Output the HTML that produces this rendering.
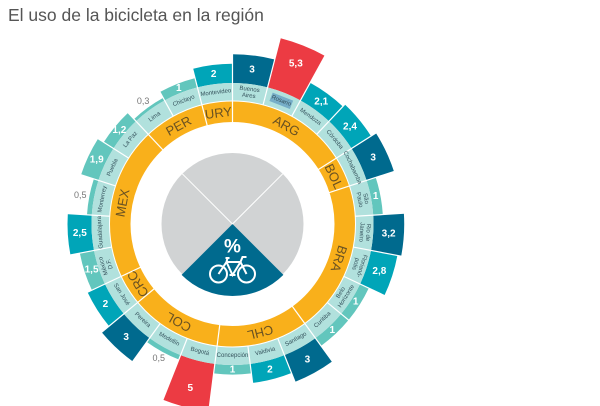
<!DOCTYPE html>
<html><head><meta charset="utf-8"><style>
html,body{margin:0;padding:0;background:#fff;width:600px;height:406px;overflow:hidden}
svg{display:block;overflow:hidden}
text{font-family:"Liberation Sans",sans-serif}
.c{font-size:6px;fill:#35525c;text-anchor:middle;dominant-baseline:central}
.v{font-size:10px;fill:#fff;font-weight:bold;text-anchor:middle;dominant-baseline:central}
.g{font-size:9px;fill:#777;text-anchor:middle;dominant-baseline:central}
.k{font-size:13px;fill:#6a5222;text-anchor:middle;dominant-baseline:central}
</style></head><body>
<svg width="600" height="406" viewBox="0 0 600 406" xmlns="http://www.w3.org/2000/svg">
<text x="8" y="21" style="font-size:17.5px;fill:#555">El uso de la bicicleta en la región</text>
<g transform="translate(232.5,224)">
<g fill="none">
<circle r="155.4" stroke="#006a8e" stroke-width="28.8" stroke-dasharray="39.06 2000" transform="rotate(-90)"/>
<circle r="166.44" stroke="#ec3b43" stroke-width="50.88" stroke-dasharray="41.83 2000" transform="rotate(-75.6)"/>
<circle r="151.08" stroke="#00a5b8" stroke-width="20.16" stroke-dasharray="37.97 2000" transform="rotate(-61.2)"/>
<circle r="152.52" stroke="#00a5b8" stroke-width="23.04" stroke-dasharray="38.33 2000" transform="rotate(-46.8)"/>
<circle r="155.4" stroke="#006a8e" stroke-width="28.8" stroke-dasharray="39.06 2000" transform="rotate(-32.4)"/>
<circle r="145.8" stroke="#62c6bd" stroke-width="9.6" stroke-dasharray="36.64 2000" transform="rotate(-18)"/>
<circle r="156.36" stroke="#006a8e" stroke-width="30.72" stroke-dasharray="39.30 2000" transform="rotate(-3.6)"/>
<circle r="154.44" stroke="#00a5b8" stroke-width="26.88" stroke-dasharray="38.81 2000" transform="rotate(10.8)"/>
<circle r="145.8" stroke="#62c6bd" stroke-width="9.6" stroke-dasharray="36.64 2000" transform="rotate(25.2)"/>
<circle r="145.8" stroke="#62c6bd" stroke-width="9.6" stroke-dasharray="36.64 2000" transform="rotate(39.6)"/>
<circle r="155.4" stroke="#006a8e" stroke-width="28.8" stroke-dasharray="39.06 2000" transform="rotate(54)"/>
<circle r="150.6" stroke="#00a5b8" stroke-width="19.2" stroke-dasharray="37.85 2000" transform="rotate(68.4)"/>
<circle r="145.8" stroke="#62c6bd" stroke-width="9.6" stroke-dasharray="36.64 2000" transform="rotate(82.8)"/>
<circle r="165" stroke="#ec3b43" stroke-width="48" stroke-dasharray="41.47 2000" transform="rotate(97.2)"/>
<circle r="143.4" stroke="#62c6bd" stroke-width="4.8" stroke-dasharray="36.04 2000" transform="rotate(111.6)"/>
<circle r="155.4" stroke="#006a8e" stroke-width="28.8" stroke-dasharray="39.06 2000" transform="rotate(126)"/>
<circle r="150.6" stroke="#00a5b8" stroke-width="19.2" stroke-dasharray="37.85 2000" transform="rotate(140.4)"/>
<circle r="148.2" stroke="#62c6bd" stroke-width="14.4" stroke-dasharray="37.25 2000" transform="rotate(154.8)"/>
<circle r="153" stroke="#00a5b8" stroke-width="24" stroke-dasharray="38.45 2000" transform="rotate(169.2)"/>
<circle r="143.4" stroke="#62c6bd" stroke-width="4.8" stroke-dasharray="36.04 2000" transform="rotate(183.6)"/>
<circle r="150.12" stroke="#62c6bd" stroke-width="18.24" stroke-dasharray="37.73 2000" transform="rotate(198)"/>
<circle r="146.76" stroke="#62c6bd" stroke-width="11.52" stroke-dasharray="36.88 2000" transform="rotate(212.4)"/>
<circle r="142.44" stroke="#62c6bd" stroke-width="2.88" stroke-dasharray="35.80 2000" transform="rotate(226.8)"/>
<circle r="145.8" stroke="#62c6bd" stroke-width="9.6" stroke-dasharray="36.64 2000" transform="rotate(241.2)"/>
<circle r="150.6" stroke="#00a5b8" stroke-width="19.2" stroke-dasharray="37.85 2000" transform="rotate(255.6)"/>
<circle r="132" stroke="#b1e1dd" stroke-width="18"/>
<circle r="112.5" stroke="#f9b01b" stroke-width="21"/>
</g>
<g stroke="#fff" stroke-width="1.2">
<line y1="-123" y2="-200"/><line y1="-123" y2="-200" transform="rotate(14.4)"/><line y1="-123" y2="-200" transform="rotate(28.8)"/><line y1="-123" y2="-200" transform="rotate(43.2)"/><line y1="-123" y2="-200" transform="rotate(57.6)"/><line y1="-123" y2="-200" transform="rotate(72)"/><line y1="-123" y2="-200" transform="rotate(86.4)"/><line y1="-123" y2="-200" transform="rotate(100.8)"/><line y1="-123" y2="-200" transform="rotate(115.2)"/><line y1="-123" y2="-200" transform="rotate(129.6)"/><line y1="-123" y2="-200" transform="rotate(144)"/><line y1="-123" y2="-200" transform="rotate(158.4)"/><line y1="-123" y2="-200" transform="rotate(172.8)"/><line y1="-123" y2="-200" transform="rotate(187.2)"/><line y1="-123" y2="-200" transform="rotate(201.6)"/><line y1="-123" y2="-200" transform="rotate(216)"/><line y1="-123" y2="-200" transform="rotate(230.4)"/><line y1="-123" y2="-200" transform="rotate(244.8)"/><line y1="-123" y2="-200" transform="rotate(259.2)"/><line y1="-123" y2="-200" transform="rotate(273.6)"/><line y1="-123" y2="-200" transform="rotate(288)"/><line y1="-123" y2="-200" transform="rotate(302.4)"/><line y1="-123" y2="-200" transform="rotate(316.8)"/><line y1="-123" y2="-200" transform="rotate(331.2)"/><line y1="-123" y2="-200" transform="rotate(345.6)"/>
<circle r="123" fill="none" stroke-width="1"/>
<line y1="-101" y2="-123"/><line y1="-101" y2="-123" transform="rotate(57.6)"/><line y1="-101" y2="-123" transform="rotate(72)"/><line y1="-101" y2="-123" transform="rotate(144)"/><line y1="-101" y2="-123" transform="rotate(187.2)"/><line y1="-101" y2="-123" transform="rotate(230.4)"/><line y1="-101" y2="-123" transform="rotate(244.8)"/><line y1="-101" y2="-123" transform="rotate(316.8)"/><line y1="-101" y2="-123" transform="rotate(345.6)"/>
</g>
<circle r="71" fill="#d1d3d4"/>
<path d="M0 0 L-50.9 50.9 A72 72 0 0 0 50.9 50.9 Z" fill="#006a8e"/>
<g stroke="#fff" stroke-width="1"><line x2="-50.2" y2="-50.2"/><line x2="50.2" y2="-50.2"/></g>
<text y="23" style="font-size:19px;font-weight:bold;fill:#fff;text-anchor:middle;dominant-baseline:central">%</text>
<g fill="none" stroke="#fff" stroke-width="2">
<circle cx="-14" cy="50" r="8.5"/><circle cx="14" cy="50" r="8.5"/>
<path d="M-14 50 L-6 38 L8 38 L14 50 M-6 38 L0 51 L8 38 M-7 34 L-3 34 M-5 34 L-6 38 M8 38 L10 33 L14 33 M-3 51 L3 51"/>
</g>
<rect x="-11" y="-137" width="22" height="9" fill="#76aec8" transform="rotate(21.6)"/>
<text class="k" transform="rotate(28.8) translate(0,-112)">ARG</text>
<text class="k" transform="rotate(64.8) translate(0,-112)">BOL</text>
<text class="k" transform="rotate(108) translate(0,-112)">BRA</text>
<text class="k" transform="rotate(165.6) translate(0,-112)">CHL</text>
<text class="k" transform="rotate(208.8) translate(0,-112)">COL</text>
<text class="k" transform="rotate(237.6) translate(0,-112)">CRC</text>
<text class="k" transform="rotate(280.8) translate(0,-112)">MEX</text>
<text class="k" transform="rotate(331.2) translate(0,-112)">PER</text>
<text class="k" transform="rotate(352.8) translate(0,-112)">URY</text>
<text class="c" transform="rotate(7.2) translate(0,-132)"><tspan x="0" dy="-3.2">Buenos</tspan><tspan x="0" dy="6.5">Aires</tspan></text>
<text class="c" transform="rotate(21.6) translate(0,-132)">Rosario</text>
<text class="c" transform="rotate(36) translate(0,-132)">Mendoza</text>
<text class="c" transform="rotate(50.4) translate(0,-132)">Córdoba</text>
<text class="c" transform="rotate(64.8) translate(0,-132)">Cochabamba</text>
<text class="c" transform="rotate(79.2) translate(0,-132)"><tspan x="0" dy="-3.2">São</tspan><tspan x="0" dy="6.5">Paulo</tspan></text>
<text class="c" transform="rotate(93.6) translate(0,-132)"><tspan x="0" dy="-3.2">Rio de</tspan><tspan x="0" dy="6.5">Janeiro</tspan></text>
<text class="c" transform="rotate(108) translate(0,-132)"><tspan x="0" dy="-3.2">Florianó-</tspan><tspan x="0" dy="6.5">polis</tspan></text>
<text class="c" transform="rotate(122.4) translate(0,-132) rotate(180)"><tspan x="0" dy="-3.2">Belo</tspan><tspan x="0" dy="6.5">Horizonte</tspan></text>
<text class="c" transform="rotate(136.8) translate(0,-132) rotate(180)">Curitiba</text>
<text class="c" transform="rotate(151.2) translate(0,-132) rotate(180)">Santiago</text>
<text class="c" transform="rotate(165.6) translate(0,-132) rotate(180)">Valdivia</text>
<text class="c" transform="rotate(180) translate(0,-132) rotate(180)">Concepción</text>
<text class="c" transform="rotate(194.4) translate(0,-132) rotate(180)">Bogotá</text>
<text class="c" transform="rotate(208.8) translate(0,-132) rotate(180)">Medellín</text>
<text class="c" transform="rotate(223.2) translate(0,-132) rotate(180)">Pereira</text>
<text class="c" transform="rotate(237.6) translate(0,-132) rotate(180)">San José</text>
<text class="c" transform="rotate(252) translate(0,-132)"><tspan x="0" dy="-3.2">México</tspan><tspan x="0" dy="6.5">D.F.</tspan></text>
<text class="c" transform="rotate(266.4) translate(0,-132)">Guadalajara</text>
<text class="c" transform="rotate(280.8) translate(0,-132)">Monterrey</text>
<text class="c" transform="rotate(295.2) translate(0,-132)">Puebla</text>
<text class="c" transform="rotate(309.6) translate(0,-132)">La Paz</text>
<text class="c" transform="rotate(324) translate(0,-132)">Lima</text>
<text class="c" transform="rotate(338.4) translate(0,-132)">Chiclayo</text>
<text class="c" transform="rotate(352.8) translate(0,-132)">Montevideo</text>
<text class="v" transform="rotate(7.2) translate(0,-155.4) rotate(-7.2)">3</text>
<text class="v" transform="rotate(21.6) translate(0,-172) rotate(-21.6)">5,3</text>
<text class="v" transform="rotate(36) translate(0,-151) rotate(-36)">2,1</text>
<text class="v" transform="rotate(50.4) translate(0,-152.5) rotate(-50.4)">2,4</text>
<text class="v" transform="rotate(64.8) translate(0,-155.4) rotate(-64.8)">3</text>
<text class="v" transform="rotate(79.2) translate(0,-145.8) rotate(-79.2)">1</text>
<text class="v" transform="rotate(93.6) translate(0,-156.4) rotate(-93.6)">3,2</text>
<text class="v" transform="rotate(108) translate(0,-154.4) rotate(-108)">2,8</text>
<text class="v" transform="rotate(122.4) translate(0,-145.8) rotate(-122.4)">1</text>
<text class="v" transform="rotate(136.8) translate(0,-145.8) rotate(-136.8)">1</text>
<text class="v" transform="rotate(151.2) translate(0,-155.4) rotate(-151.2)">3</text>
<text class="v" transform="rotate(165.6) translate(0,-150.6) rotate(-165.6)">2</text>
<text class="v" transform="rotate(180) translate(0,-145.8) rotate(-180)">1</text>
<text class="v" transform="rotate(194.4) translate(0,-170) rotate(-194.4)">5</text>
<text class="g" transform="rotate(208.8) translate(0,-153) rotate(-208.8)">0,5</text>
<text class="v" transform="rotate(223.2) translate(0,-155.4) rotate(-223.2)">3</text>
<text class="v" transform="rotate(237.6) translate(0,-150.6) rotate(-237.6)">2</text>
<text class="v" transform="rotate(252) translate(0,-148.2) rotate(-252)">1,5</text>
<text class="v" transform="rotate(266.4) translate(0,-153) rotate(-266.4)">2,5</text>
<text class="g" transform="rotate(280.8) translate(0,-155) rotate(-280.8)">0,5</text>
<text class="v" transform="rotate(295.2) translate(0,-150.1) rotate(-295.2)">1,9</text>
<text class="v" transform="rotate(309.6) translate(0,-146.8) rotate(-309.6)">1,2</text>
<text class="g" transform="rotate(324) translate(0,-152) rotate(-324)">0,3</text>
<text class="v" transform="rotate(338.4) translate(0,-145.8) rotate(-338.4)">1</text>
<text class="v" transform="rotate(352.8) translate(0,-150.6) rotate(-352.8)">2</text>
</g>
</svg>
</body></html>
